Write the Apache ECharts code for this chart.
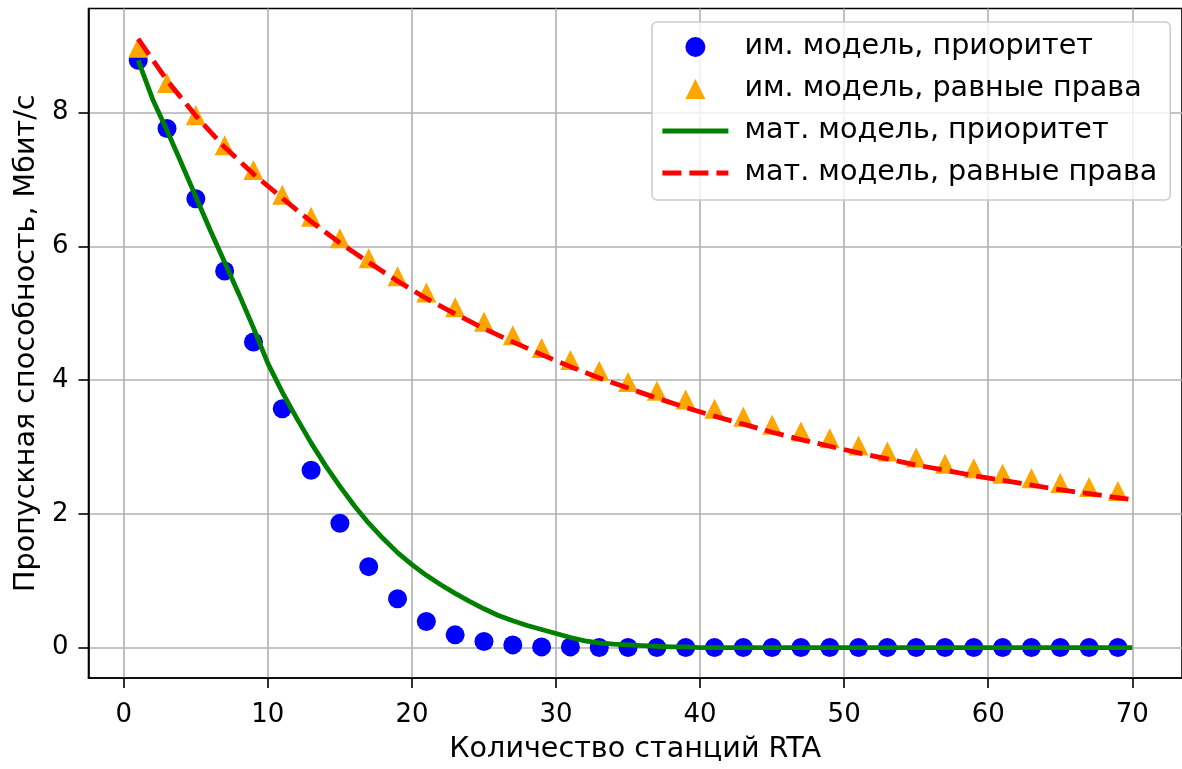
<!DOCTYPE html>
<html>
<head>
<meta charset="utf-8">
<script src="https://cdn.jsdelivr.net/npm/echarts@6/dist/echarts.min.js"></script>
<style>
  html, body { margin: 0; padding: 0; background: #ffffff; }
  #chart { width: 1182px; height: 769px; }
</style>
</head>
<body>
<div id="chart"></div>
<script>
// Number of RTA stations for the simulation runs (odd counts)
const simStations = [1, 3, 5, 7, 9, 11, 13, 15, 17, 19, 21, 23, 25, 27, 29, 31, 33, 35,
  37, 39, 41, 43, 45, 47, 49, 51, 53, 55, 57, 59, 61, 63, 65, 67, 69];

// Simulation model, priority access (Mbit/s)
const simPriority = [8.78, 7.76, 6.71, 5.63, 4.57, 3.57, 2.65, 1.86, 1.21, 0.73, 0.39, 0.19,
  0.09, 0.04, 0.01, 0.01, 0, 0, 0, 0, 0, 0, 0, 0, 0, 0, 0, 0, 0, 0, 0, 0, 0, 0, 0];

// Simulation model, equal rights (Mbit/s)
const simEqual = [8.97, 8.44, 7.96, 7.51, 7.14, 6.77, 6.44, 6.12, 5.82, 5.55, 5.31, 5.09,
  4.87, 4.67, 4.48, 4.30, 4.14, 3.97, 3.84, 3.71, 3.57, 3.45, 3.33, 3.23, 3.13, 3.02,
  2.93, 2.84, 2.75, 2.68, 2.60, 2.53, 2.46, 2.40, 2.34];

// Analytical model, priority access: every station count from 1 to 70
const modelPriorityStations = [1, 2, 3, 4, 5, 6, 7, 8, 9, 10, 11, 12, 13, 14, 15, 16, 17, 18,
  19, 20, 21, 22, 23, 24, 25, 26, 27, 28, 29, 30, 31, 32, 33, 34, 35, 36, 37, 38, 39, 40,
  41, 42, 43, 44, 45, 46, 47, 48, 49, 50, 51, 52, 53, 54, 55, 56, 57, 58, 59, 60, 61, 62,
  63, 64, 65, 66, 67, 68, 69, 70];
const modelPriority = [8.78, 8.20, 7.73, 7.24, 6.74, 6.24, 5.76, 5.28, 4.78, 4.25,
  3.82, 3.43, 3.06, 2.72, 2.41, 2.12, 1.86, 1.63, 1.42, 1.24,
  1.08, 0.94, 0.81, 0.69, 0.58, 0.48, 0.40, 0.33, 0.27, 0.21,
  0.15, 0.10, 0.07, 0.05, 0.04, 0.03, 0.02, 0.01, 0.01, 0,
  0, 0, 0, 0, 0, 0, 0, 0, 0, 0, 0, 0, 0, 0, 0, 0, 0, 0, 0, 0,
  0, 0, 0, 0, 0, 0, 0, 0, 0, 0];

// Analytical model, equal rights
const modelEqualStations = [1, 3, 5, 7, 9, 11, 13, 15, 17, 19, 21, 23, 25, 27, 29, 31, 33,
  35, 37, 39, 41, 43, 45, 47, 49, 51, 53, 55, 57, 59, 61, 63, 65, 67, 69, 70];
const modelEqual = [9.10, 8.48, 7.95, 7.48, 7.08, 6.72, 6.37, 6.05, 5.76, 5.48, 5.22, 4.99,
  4.77, 4.57, 4.38, 4.20, 4.03, 3.88, 3.73, 3.59, 3.46, 3.34, 3.22, 3.11, 3.01, 2.91,
  2.82, 2.73, 2.65, 2.57, 2.50, 2.43, 2.36, 2.30, 2.24, 2.21];

// Tick positions
const xTicks = [0, 10, 20, 30, 40, 50, 60, 70];
const yTicks = [0, 2, 4, 6, 8];

const seriesNames = [
  'им. модель, приоритет',
  'им. модель, равные права',
  'мат. модель, приоритет',
  'мат. модель, равные права'
];

const pairs = (xs, ys) => xs.map((x, i) => [x, ys[i]]);

const FONT = "'DejaVu Sans', sans-serif";
const TICK_FONT = 26;
const LABEL_FONT = 28.6;
const gridColor = '#b0b0b0';
const LINE_W = 4.8;
const DASH = [19, 8];

const chart = echarts.init(document.getElementById('chart'), null, { renderer: 'canvas' });

chart.setOption({
  animation: false,
  backgroundColor: '#ffffff',
  textStyle: { fontFamily: FONT },
  grid: {
    left: 88.5,
    top: 8.5,
    right: -5,
    bottom: 89,
    show: true,
    borderColor: '#000000',
    borderWidth: 1.6,
    backgroundColor: 'transparent'
  },
  legend: {
    orient: 'vertical',
    left: 652,
    top: 22,
    padding: [9, 13, 11, 8],
    itemGap: 10,
    itemWidth: 66,
    itemHeight: 20,
    backgroundColor: 'rgba(255,255,255,0.8)',
    borderColor: '#cccccc',
    borderWidth: 1.5,
    borderRadius: 5,
    textStyle: {
      fontFamily: FONT,
      fontSize: LABEL_FONT,
      color: '#000000',
      lineHeight: 32,
      padding: [0, 0, 0, 11]
    },
    data: [
      { name: seriesNames[0], icon: 'circle' },
      { name: seriesNames[1], icon: 'path://M10,0 L20,20 L0,20 Z' },
      {
        name: seriesNames[2],
        itemStyle: { opacity: 0 },
        lineStyle: { color: '#008000', width: LINE_W }
      },
      {
        name: seriesNames[3],
        itemStyle: { opacity: 0 },
        lineStyle: { color: '#ff0000', width: LINE_W, type: DASH }
      }
    ]
  },
  xAxis: {
    type: 'value',
    min: -2.45,
    max: 73.45,
    name: 'Количество станций RTA',
    nameLocation: 'middle',
    nameGap: 57,
    nameTextStyle: { fontFamily: FONT, fontSize: LABEL_FONT, color: '#000000' },
    axisLine: { show: true, onZero: false, lineStyle: { color: '#000000', width: 1.6 } },
    axisTick: {
      show: true, inside: false, length: 10,
      lineStyle: { color: '#000000', width: 1.6 },
      customValues: xTicks
    },
    axisLabel: {
      fontFamily: FONT, fontSize: TICK_FONT, color: '#000000', margin: 24,
      customValues: xTicks
    },
    splitLine: { show: true, lineStyle: { color: gridColor, width: 1.6 } }
  },
  yAxis: {
    type: 'value',
    min: -0.455,
    max: 9.555,
    name: 'Пропускная способность, Мбит/с',
    nameLocation: 'middle',
    nameGap: 44,
    nameTextStyle: { fontFamily: FONT, fontSize: LABEL_FONT, color: '#000000' },
    axisLine: { show: true, onZero: false, lineStyle: { color: '#000000', width: 1.6 } },
    axisTick: {
      show: true, inside: false, length: 10,
      lineStyle: { color: '#000000', width: 1.6 },
      customValues: yTicks
    },
    axisLabel: {
      fontFamily: FONT, fontSize: TICK_FONT, color: '#000000', margin: 20,
      customValues: yTicks
    },
    splitLine: { show: true, lineStyle: { color: gridColor, width: 1.6 } }
  },
  series: [
    {
      name: seriesNames[0],
      type: 'scatter',
      symbol: 'circle',
      symbolSize: 19,
      itemStyle: { color: '#0000ff', opacity: 1 },
      data: pairs(simStations, simPriority)
    },
    {
      name: seriesNames[1],
      type: 'scatter',
      symbol: 'triangle',
      symbolSize: 20,
      itemStyle: { color: '#ffa500', opacity: 1 },
      data: pairs(simStations, simEqual)
    },
    {
      name: seriesNames[2],
      type: 'line',
      showSymbol: false,
      symbol: 'none',
      lineStyle: { color: '#008000', width: LINE_W },
      itemStyle: { color: '#008000' },
      data: pairs(modelPriorityStations, modelPriority)
    },
    {
      name: seriesNames[3],
      type: 'line',
      showSymbol: false,
      symbol: 'none',
      lineStyle: { color: '#ff0000', width: LINE_W, type: DASH },
      itemStyle: { color: '#ff0000' },
      data: pairs(modelEqualStations, modelEqual)
    }
  ]
});
</script>
</body>
</html>
